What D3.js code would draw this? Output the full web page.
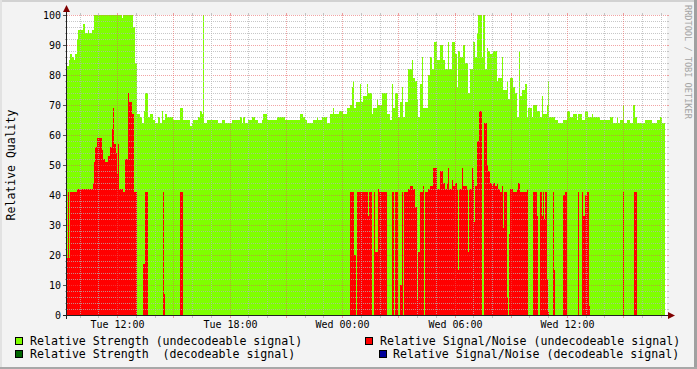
<!DOCTYPE html>
<html>
<head>
<meta charset="utf-8">
<script src="https://cdn.jsdelivr.net/npm/d3@7"></script>
<style>
  html, body { margin: 0; padding: 0; background: #f3f3f3; }
  svg { display: block; font-family: "DejaVu Sans Mono", monospace; }
</style>
</head>
<body>
<div id="chart"></div>
<script>
// rrd samples, one every 192 s (consolidated), [sample index, value]
const stepSeconds = 192;
const startTime = new Date(2009, 0, 13, 9, 18, 24);
const spanHours = 32;

// Relative Strength (undecodeable signal)
const strengthUndecodeable = [
  [0,83],[2,85],[3,87],[5,86],[7,85],[8,87],[10,92],[11,95],[16,97],[18,94],[21,95],[22,94],[25,95],[27,100],
  [55,99],[56,100],[66,96],[68,84],[70,67],[73,66],[75,64],[77,68],[78,74],[81,66],[83,67],[86,65],[88,64],
  [91,66],[93,64],[95,68],[96,65],[98,67],[100,66],[106,65],[113,69],[116,65],[123,63],[125,64],[126,65],
  [131,66],[133,68],[135,67],[136,100],[137,64],[140,65],[151,64],[155,65],[158,64],[163,64],[165,65],
  [173,66],[175,64],[176,66],[178,64],[181,65],[185,66],[188,65],[191,64],[195,65],[196,67],[200,65],
  [210,66],[218,65],[230,65],[233,67],[236,66],[238,65],[240,64],[246,65],[250,66],[251,65],[255,66],
  [260,64],[263,67],[266,69],[267,67],[272,68],[276,67],[280,69],[283,70],[285,76],[286,78],[287,69],
  [289,71],[293,77],[294,71],[296,73],[300,77],[301,74],[305,67],[306,69],[310,72],[311,70],[315,74],
  [320,67],[323,65],[325,77],[326,69],[328,74],[331,66],[333,71],[335,76],[336,66],[338,71],[341,82],
  [345,85],[346,79],[348,78],[350,72],[351,66],[353,77],[355,86],[356,69],[361,80],[363,86],[365,82],
  [367,91],[370,85],[373,90],[376,85],[378,82],[381,91],[382,82],[385,91],[388,87],[390,76],[391,88],
  [393,86],[396,90],[398,84],[401,74],[403,82],[406,91],[408,86],[410,94],[411,100],[415,86],[416,100],
  [418,82],[420,89],[421,88],[423,87],[426,88],[430,78],[431,79],[435,86],[436,75],[440,78],[441,72],
  [443,79],[446,76],[448,74],[450,66],[452,88],[453,73],[455,75],[458,77],[460,66],[461,69],[465,66],
  [466,70],[470,68],[473,66],[475,73],[476,67],[480,70],[481,78],[482,66],[488,65],[491,64],[496,65],
  [500,68],[503,66],[506,67],[510,65],[511,67],[515,65],[518,68],[521,66],[525,67],[526,66],[533,65],
  [543,66],[546,64],[550,66],[551,64],[553,65],[556,70],[557,64],[560,65],[563,64],[566,70],[568,66],
  [570,64],[578,65],[585,64],[590,65],[593,66],[595,64],[598,64]
];

// Relative Signal/Noise (undecodeable signal)
const noiseUndecodeable = [
  [0,19],[1,41],[2,19],[3,41],[10,42],[26,44],[27,51],[28,56],[30,59],[35,55],[36,52],[38,51],[41,53],
  [43,56],[45,62],[46,69],[47,57],[49,54],[50,47],[51,57],[52,42],[56,41],[58,52],[61,74],[62,71],[65,67],
  [67,41],[70,0],[76,17],[78,41],[81,0],[96,41],[97,7],[98,0],[113,41],[116,0],[283,41],[287,20],[289,0],
  [290,41],[301,33],[302,41],[305,0],[307,41],[308,21],[311,42],[312,41],[320,0],[325,41],[327,0],[328,41],
  [331,0],[333,10],[335,41],[336,0],[337,41],[341,42],[343,43],[346,42],[348,36],[350,5],[351,21],[353,41],
  [356,43],[357,0],[358,41],[361,42],[363,43],[366,49],[370,42],[373,48],[376,44],[378,42],[380,44],
  [381,49],[382,42],[385,45],[386,43],[388,44],[390,42],[391,15],[392,42],[395,49],[396,43],[400,42],
  [401,21],[402,42],[405,49],[406,45],[407,31],[408,43],[410,58],[412,68],[415,0],[417,64],[420,50],
  [421,48],[423,44],[425,43],[426,44],[428,43],[430,44],[431,42],[433,41],[435,43],[436,29],[437,41],
  [440,6],[441,0],[442,27],[443,42],[446,41],[450,42],[451,44],[453,41],[460,42],[461,0],[466,41],[470,33],
  [471,0],[473,41],[475,33],[476,41],[477,32],[478,41],[480,12],[481,1],[482,0],[486,41],[487,15],[488,0],
  [496,40],[498,41],[500,0],[511,41],[512,0],[515,41],[516,33],[518,40],[520,41],[522,3],[523,0],
  [556,41],[557,0],[567,41],[570,0],[598,0]
];

// decodeable series had no data in this window
const strengthDecodeable = [];
const noiseDecodeable = [];

const yTickValues = [0, 10, 20, 30, 40, 50, 60, 70, 80, 90, 100];
const legendItems = [
  { label: 'Relative Strength (undecodeable signal)', color: '#7fff00' },
  { label: 'Relative Signal/Noise (undecodeable signal)', color: '#ff0000' },
  { label: 'Relative Strength  (decodeable signal)', color: '#006600' },
  { label: 'Relative Signal/Noise (decodeable signal)', color: '#000099' }
];

const width = 697, height = 369;
const plot = { left: 67, top: 15, width: 600, height: 300 };
const gridMinor = 'rgba(180,180,180,0.75)';
const gridMajor = 'rgba(230,90,90,0.55)';

const svg = d3.select('#chart').append('svg')
  .attr('width', width).attr('height', height);

// background + rrdtool style frame
svg.append('rect').attr('width', width).attr('height', height).attr('fill', '#f3f3f3');
svg.append('rect').attr('x', 0).attr('y', 0).attr('width', width).attr('height', 2).attr('fill', '#d2d2d2');
svg.append('rect').attr('x', 0).attr('y', 0).attr('width', 2).attr('height', height).attr('fill', '#e2e2e2');
svg.append('rect').attr('x', width - 3).attr('y', 0).attr('width', 3).attr('height', height).attr('fill', '#a0a0a0');
svg.append('rect').attr('x', 0).attr('y', height - 2).attr('width', width).attr('height', 2).attr('fill', '#a8a8a8');

const endTime = d3.timeHour.offset(startTime, spanHours);
const x = d3.scaleTime().domain([startTime, endTime]).range([plot.left, plot.left + plot.width]);
const y = d3.scaleLinear().domain([0, 100]).range([plot.top + plot.height, plot.top]);
const sampleTime = (i) => new Date(+startTime + i * stepSeconds * 1000);

// plot canvas
svg.append('rect')
  .attr('x', plot.left).attr('y', plot.top)
  .attr('width', plot.width).attr('height', plot.height)
  .attr('fill', '#ffffff');

const area = d3.area()
  .curve(d3.curveStepAfter)
  .x((d) => x(sampleTime(d[0])))
  .y0(y(0))
  .y1((d) => y(d[1]));

const series = [
  { data: strengthUndecodeable, color: legendItems[0].color },
  { data: noiseUndecodeable, color: legendItems[1].color },
  { data: strengthDecodeable, color: legendItems[2].color },
  { data: noiseDecodeable, color: legendItems[3].color }
];
svg.append('g').selectAll('path')
  .data(series.filter((s) => s.data.length))
  .join('path')
  .attr('d', (s) => area(s.data))
  .attr('fill', (s) => s.color)
  .attr('shape-rendering', 'crispEdges');

// grid on top of the data
const grid = svg.append('g').attr('shape-rendering', 'crispEdges');
const xl = plot.left, xr = plot.left + plot.width;
const yb = plot.top + plot.height, yt = plot.top;

d3.range(0, 101, 2).forEach((v) => {
  const major = v % 10 === 0;
  const py = y(v) + 0.5;
  const c = major ? gridMajor : gridMinor;
  if (v > 0) {
    grid.append('line').attr('x1', xl).attr('x2', xr).attr('y1', py).attr('y2', py)
      .attr('stroke', c).attr('stroke-dasharray', '1,1');
  }
  grid.append('line').attr('x1', major ? xl - 4 : xl - 2).attr('x2', xl).attr('y1', py).attr('y2', py)
    .attr('stroke', major ? '#555' : '#aaa');
  grid.append('line').attr('x1', xr).attr('x2', xr + 2).attr('y1', py).attr('y2', py)
    .attr('stroke', c);
});

x.ticks(d3.timeHour.every(1)).forEach((h) => {
  const major = h.getHours() % 3 === 0;
  const px = Math.floor(x(h)) + 0.5;
  const c = major ? gridMajor : gridMinor;
  grid.append('line').attr('x1', px).attr('x2', px).attr('y1', yt).attr('y2', yb)
    .attr('stroke', c).attr('stroke-dasharray', '1,1');
  grid.append('line').attr('x1', px).attr('x2', px).attr('y1', yb + 1).attr('y2', yb + 3)
    .attr('stroke', c);
  grid.append('line').attr('x1', px).attr('x2', px).attr('y1', yt - 2).attr('y2', yt)
    .attr('stroke', c);
});

// axes
svg.append('line').attr('x1', xl - 4).attr('x2', xr + 2).attr('y1', yb + 0.5).attr('y2', yb + 0.5)
  .attr('stroke', '#202020').attr('shape-rendering', 'crispEdges');
svg.append('line').attr('x1', xl - 0.5).attr('x2', xl - 0.5).attr('y1', yb + 4).attr('y2', yt - 3)
  .attr('stroke', '#202020').attr('shape-rendering', 'crispEdges');
svg.append('path').attr('d', `M${xr + 1},${yb - 3}L${xr + 8},${yb + 0.5}L${xr + 1},${yb + 4}Z`)
  .attr('fill', '#800000');
svg.append('path').attr('d', `M${xl - 4},${yt - 3}L${xl - 0.5},${yt - 10}L${xl + 3},${yt - 3}Z`)
  .attr('fill', '#800000');

// tick labels
svg.append('g').selectAll('text')
  .data(yTickValues)
  .join('text')
  .attr('x', xl - 6)
  .attr('y', (d) => y(d) + 4)
  .attr('text-anchor', 'end')
  .attr('font-size', '10px')
  .attr('fill', '#000')
  .text((d) => d);

const fmt = d3.timeFormat('%a %H:%M');
svg.append('g').selectAll('text')
  .data(x.ticks(d3.timeHour.every(6)))
  .join('text')
  .attr('x', (d) => Math.floor(x(d)) + 0.5)
  .attr('y', 328)
  .attr('text-anchor', 'middle')
  .attr('font-size', '10px')
  .attr('fill', '#000')
  .text((d) => fmt(d));

// axis title and watermark
svg.append('text')
  .attr('transform', 'translate(15,165) rotate(-90)')
  .attr('text-anchor', 'middle')
  .attr('font-size', '11.5px')
  .attr('fill', '#000')
  .text('Relative Quality');

svg.append('text')
  .attr('transform', 'translate(685,5) rotate(90)')
  .attr('text-anchor', 'start')
  .attr('font-size', '8.6px')
  .attr('fill', '#a4a4a4')
  .text('RRDTOOL / TOBI OETIKER');

// legend
const legendPos = [
  { bx: 15, tx: 30, by: 345 },
  { bx: 365, tx: 380, by: 345 },
  { bx: 15, tx: 30, by: 358 },
  { bx: 379, tx: 393, by: 358 }
];
const legend = svg.append('g');
legendItems.forEach((d, i) => {
  const p = legendPos[i];
  legend.append('rect')
    .attr('x', p.bx + 0.5).attr('y', p.by - 7.5)
    .attr('width', 7).attr('height', 7)
    .attr('fill', d.color).attr('stroke', '#000').attr('stroke-width', 1)
    .attr('shape-rendering', 'crispEdges');
  legend.append('text')
    .attr('x', p.tx).attr('y', p.by)
    .attr('font-size', '11.6px')
    .attr('fill', '#000')
    .attr('xml:space', 'preserve')
    .style('white-space', 'pre')
    .text(d.label);
});
</script>
</body>
</html>
